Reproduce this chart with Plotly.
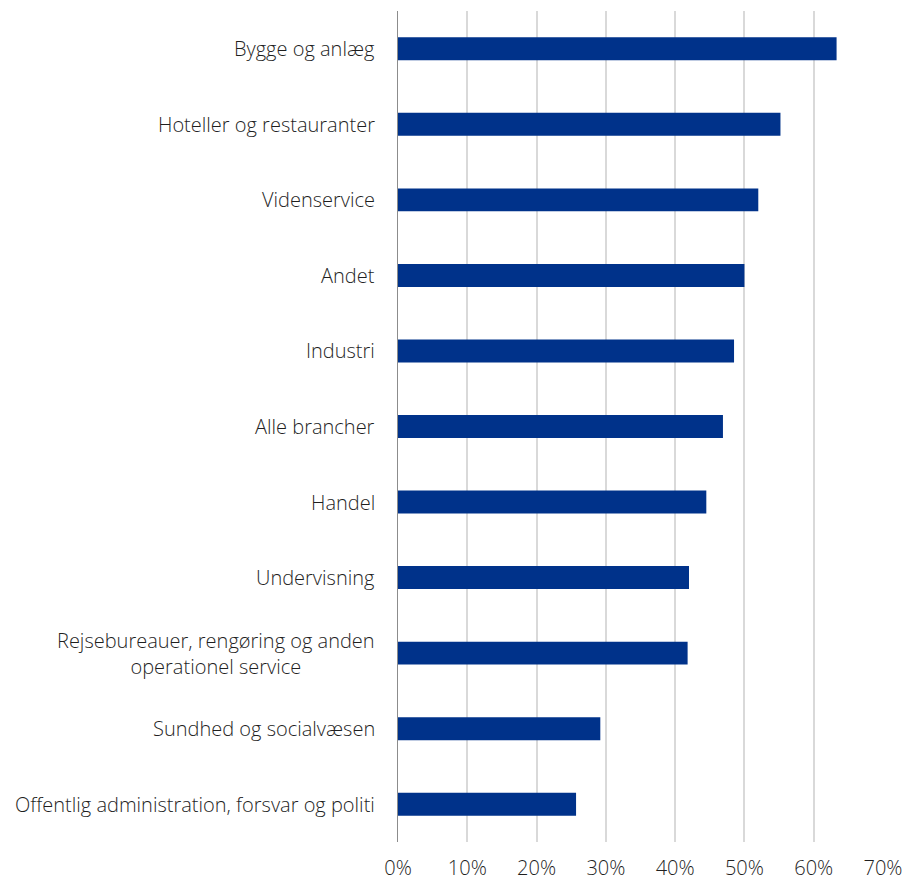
import plotly.graph_objects as go

categories = [
    "Bygge og anlæg",
    "Hoteller og restauranter",
    "Videnservice",
    "Andet",
    "Industri",
    "Alle brancher",
    "Handel",
    "Undervisning",
    "Rejsebureauer, rengøring og anden<br>operationel service",
    "Sundhed og socialvæsen",
    "Offentlig administration, forsvar og politi",
]
values = [0.633, 0.552, 0.520, 0.500, 0.485, 0.469, 0.445, 0.420, 0.418, 0.292, 0.257]
x_ticks = [0, 0.1, 0.2, 0.3, 0.4, 0.5, 0.6, 0.7]

FONT = "Open Sans"
TEXT_COLOR = "#1f1f1f"

fig = go.Figure(
    go.Bar(
        x=values,
        y=categories,
        orientation="h",
        marker=dict(color="#00328A", line=dict(width=0)),
        hoverinfo="x+y",
    )
)

annotations = [
    dict(
        x=0, xref="paper", y=c, yref="y", text=c,
        xanchor="right", yanchor="middle", align="center",
        xshift=-21, showarrow=False,
        font=dict(family=FONT, size=20, color=TEXT_COLOR, weight=300),
    )
    for c in categories
]

fig.update_layout(
    width=906,
    height=881,
    margin=dict(l=398, r=23, t=11, b=39, autoexpand=False),
    plot_bgcolor="white",
    paper_bgcolor="white",
    bargap=0.696,
    showlegend=False,
    font=dict(family=FONT, size=20, color=TEXT_COLOR, weight=300),
    annotations=annotations,
    xaxis=dict(
        range=[0, 0.7],
        tickvals=x_ticks,
        tickformat=".0%",
        showgrid=True,
        gridcolor="#d9d9d9",
        gridwidth=1.5,
        zeroline=False,
        showline=False,
        ticks="outside",
        ticklen=8,
        tickcolor="rgba(0,0,0,0)",
        tickfont=dict(family=FONT, size=20, color=TEXT_COLOR, weight=300),
        automargin=False,
        fixedrange=True,
    ),
    yaxis=dict(
        categoryorder="array",
        categoryarray=categories,
        autorange="reversed",
        showticklabels=False,
        showgrid=False,
        zeroline=False,
        showline=True,
        linecolor="#8c8c8c",
        linewidth=1.2,
        ticks="",
        automargin=False,
        fixedrange=True,
    ),
)

fig.write_html(
    "out.html",
    config={"displayModeBar": False},
    post_script="document.body.style.margin='0';document.body.style.overflow='hidden';",
)
